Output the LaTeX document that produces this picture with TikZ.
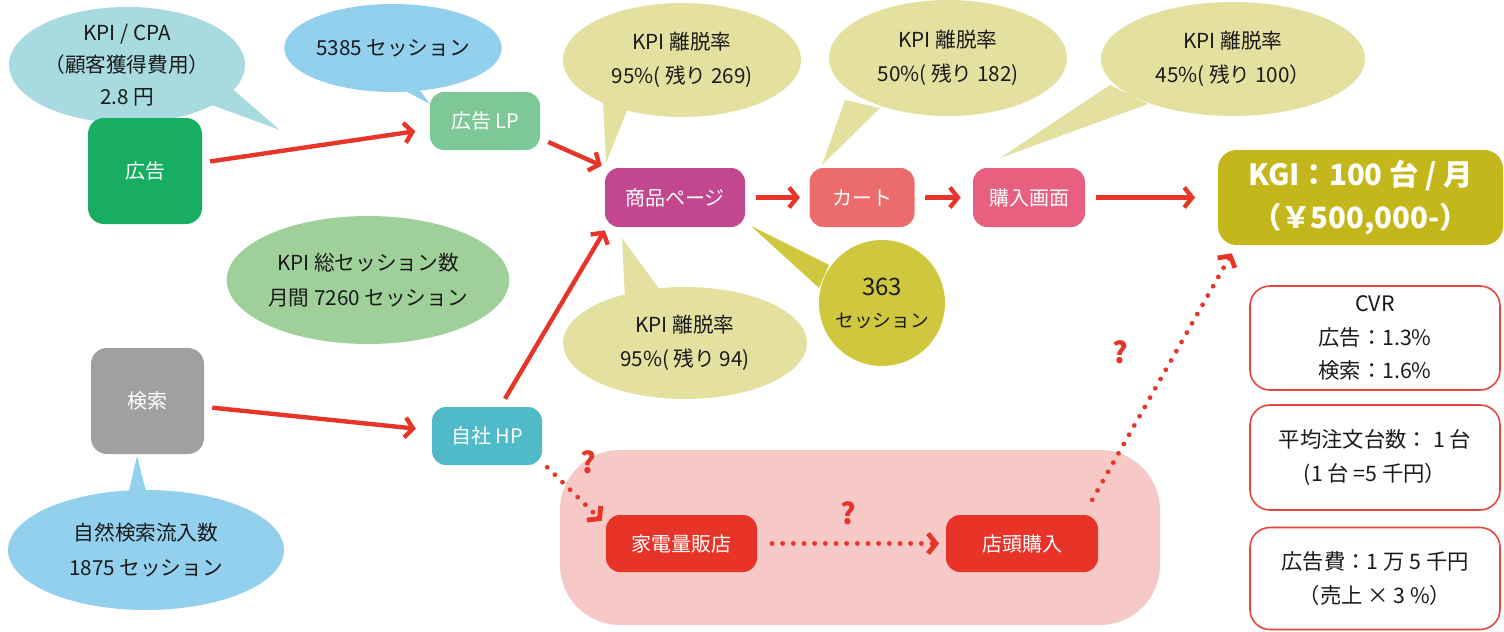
\documentclass[tikz,border=0pt]{standalone}
\usepackage{fontspec}
\setmainfont{Noto Sans CJK JP}
\usetikzlibrary{arrows.meta,shapes.geometric,calc}
\definecolor{adgreen}{HTML}{17AE62}
\definecolor{lpgreen}{HTML}{7EC897}
\definecolor{prodc}{HTML}{C2478F}
\definecolor{cartc}{HTML}{EC6B6B}
\definecolor{buyc}{HTML}{E8607F}
\definecolor{kgic}{HTML}{C4B71B}
\definecolor{searchc}{HTML}{A0A0A0}
\definecolor{hpc}{HTML}{50BBC8}
\definecolor{redarr}{HTML}{E8352A}
\definecolor{storered}{HTML}{E83328}
\definecolor{pinkbg}{HTML}{F6C8C6}
\definecolor{cyanb}{HTML}{A8DBE0}
\definecolor{blueb}{HTML}{93D0EE}
\definecolor{yelb}{HTML}{E3E0A0}
\definecolor{c363}{HTML}{CFC83E}
\definecolor{greenb}{HTML}{A0D09A}
\definecolor{infored}{HTML}{E8453C}
\definecolor{txt}{HTML}{1A1A1A}
\begin{document}
\begin{tikzpicture}[x=0.75pt,y=-0.75pt,
  wh/.style 2 args={minimum width=#1*0.75pt, minimum height=#2*0.75pt},
  box/.style={rounded corners=10.5pt, text=white, inner sep=0pt, font=\fontsize{15}{18}\selectfont, align=center},
  bub/.style={ellipse, inner sep=0pt, text=txt, font=\fontsize{15.5}{26}\selectfont, align=center},
  arr/.style={draw=redarr, line width=3.3pt, -{Straight Barb[length=6pt,width=15pt]}},
  dotarr/.style={draw=redarr, line width=3.6pt, line cap=round, dash pattern=on 0pt off 8pt, -{Straight Barb[length=6pt,width=15pt]}},
  info/.style={draw=infored, line width=1.2pt, fill=white, rounded corners=15pt, inner sep=0pt, text=txt, font=\fontsize{16}{25}\selectfont, align=center},
  qmark/.style={text=redarr, font=\bfseries\fontsize{22}{24}\selectfont, inner sep=0pt}
]
\useasboundingbox (0,0) rectangle (1504,632);

% store area
\node[fill=pinkbg, rounded corners=45pt, wh={600}{175}, inner sep=0pt] (store) at (860,537.5) {};

% bubbles (tails first)
\fill[cyanb] (222,80) -- (280,130) -- (198,100) -- cycle;
\node[bub, fill=cyanb, wh={236}{114}, font=\fontsize{15.5}{24}\selectfont] (cpa) at (127,65) {KPI / CPA\\（顧客獲得費用）\\2.8 円};
\fill[blueb] (392,84) -- (430,104) -- (412,80) -- cycle;
\node[bub, fill=blueb, wh={187}{88}] (s5385) at (393,48) {5385 セッション};
\fill[yelb] (603,100) -- (606,163) -- (628,108) -- cycle;
\node[bub, fill=yelb, wh={238}{114}] (k1) at (682,60) {KPI 離脱率\\95\%( 残り 269)};
\fill[yelb] (845,100) -- (822,165) -- (880,108) -- cycle;
\node[bub, fill=yelb, wh={238}{116}] (k2) at (948,58) {KPI 離脱率\\50\%( 残り 182)};
\fill[yelb] (1110,85) -- (1000,158) -- (1148,104) -- cycle;
\node[bub, fill=yelb, wh={264}{114}] (k3) at (1233,59) {KPI 離脱率\\45\%( 残り 100）};
\fill[yelb] (625,300) -- (622,238) -- (660,290) -- cycle;
\node[bub, fill=yelb, wh={244}{112}] (k4) at (685,343) {KPI 離脱率\\95\%( 残り 94)};
\fill[c363] (829,265) -- (751,226) -- (819,288) -- cycle;
\node[circle, fill=c363, minimum size=126*0.75pt, inner sep=0pt, text=txt, align=center, font=\fontsize{14}{24}\selectfont] (c) at (882,303) {{\fontsize{18}{24}\selectfont 363}\\セッション};
\node[bub, fill=greenb, wh={256}{128}] (total) at (368,280) {KPI 総セッション数\\月間 7260 セッション};
\fill[blueb] (128,495) -- (137,456) -- (147,495) -- cycle;
\node[bub, fill=blueb, wh={276}{120}] (nat) at (146,550) {自然検索流入数\\1875 セッション};

% boxes
\node[box, fill=adgreen, wh={114}{106}, rounded corners=12pt] (ad) at (145,171) {広告};
\node[box, fill=lpgreen, wh={110}{58}] (lp) at (485,121) {広告 LP};
\node[box, fill=prodc, wh={140}{59}] (prod) at (675,197.5) {商品ページ};
\node[box, fill=cartc, wh={105}{59}] (cart) at (862,197.5) {カート};
\node[box, fill=buyc, wh={112}{59}] (buy) at (1029,197.5) {購入画面};
\node[box, fill=kgic, wh={285}{95}, rounded corners=14pt, font=\bfseries\fontsize{22}{32}\selectfont] (kgi) at (1360.5,197.5) {KGI：100 台 / 月\\（￥500,000-）};
\node[box, fill=searchc, wh={113}{106}, rounded corners=12pt] (search) at (147.5,401) {検索};
\node[box, fill=hpc, wh={110}{58}] (hp) at (487,436) {自社 HP};
\node[box, fill=storered, wh={151}{57}] (kaden) at (681.5,543.5) {家電量販店};
\node[box, fill=storered, wh={152}{57}] (tento) at (1022,543.5) {店頭購入};

% info boxes
\node[info, wh={250}{104}] (cvr) at (1375,338) {CVR\\広告：1.3\%\\検索：1.6\%};
\node[info, wh={250}{105}] (avg) at (1375,457.5) {平均注文台数： 1 台\\(1 台 =5 千円）};
\node[info, wh={250}{102}] (cost) at (1375,578.5) {広告費：1 万 5 千円\\（売上 × 3 \%）};

% question marks
\node[qmark] (q1) at (588,462) {?};
\node[qmark] (q2) at (848,513) {?};
\node[qmark] (q3) at (1120,352) {?};

% connectors
\draw[arr, shorten <=6pt, shorten >=11pt] (ad) -- (lp);
\draw[arr] ($(lp.east)+(8,21)$) -- ($(prod.north west)+(-3,-2)$);
\draw[arr] ($(hp.north)+(18,-8)$) -- ($(prod.south west)+(0,3)$);
\draw[arr, shorten <=8pt, shorten >=7pt] (prod) -- (cart);
\draw[arr, shorten <=8pt, shorten >=9pt] (cart) -- (buy);
\draw[arr, shorten <=8pt, shorten >=17pt] (buy) -- (kgi);
\draw[arr, shorten <=6pt, shorten >=12pt] (search) -- (hp);
\draw[dotarr] ($(hp.south east)+(5,2)$) -- ($(kaden.north west)+(-4,6)$);
\draw[dotarr, shorten <=11pt, shorten >=5pt] (kaden) -- (tento);
\draw[dotarr] ($(tento.north east)+(-6,-15)$) -- ($(kgi.south west)+(14,8)$);
\end{tikzpicture}
\end{document}
